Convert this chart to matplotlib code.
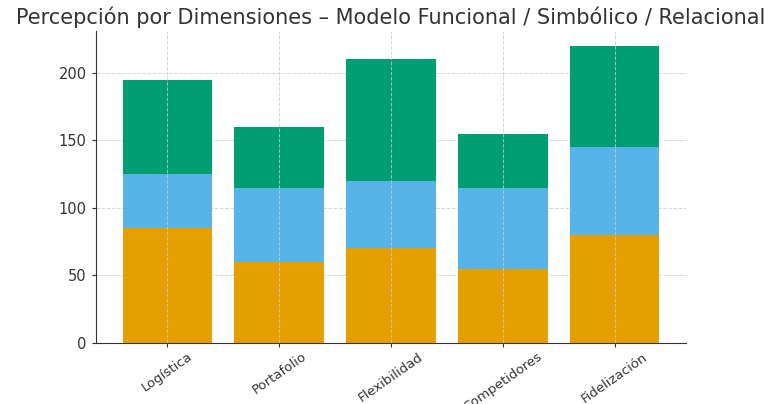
import matplotlib
matplotlib.use("Agg")
import matplotlib.pyplot as plt
import numpy as np

categories = ["Logística", "Portafolio", "Flexibilidad", "Competidores", "Fidelización"]
funcional = [85, 60, 70, 55, 80]
simbolico = [40, 55, 50, 60, 65]
relacional = [70, 45, 90, 40, 75]

colors = ["#E69F00", "#56B4E9", "#009E73"]

fig = plt.figure(figsize=(7.72, 4.04), dpi=100)
ax = fig.add_axes([0.124, 0.151, 0.765, 0.772])

x = np.arange(len(categories))
b1 = np.array(funcional)
b2 = b1 + np.array(simbolico)
ax.bar(x, funcional, width=0.8, color=colors[0], label="Funcional")
ax.bar(x, simbolico, width=0.8, bottom=b1, color=colors[1], label="Simbólico")
ax.bar(x, relacional, width=0.8, bottom=b2, color=colors[2], label="Relacional")

ax.set_ylim(0, 231)
ax.set_xticks(x)
ax.set_xticklabels(categories, rotation=35, fontsize=9.5, color="#333333")
ax.set_yticks([0, 50, 100, 150, 200])
ax.tick_params(axis="y", labelsize=10.5, labelcolor="#333333", colors="#333333", length=3)
ax.tick_params(axis="x", colors="#333333", length=3, pad=2)

ax.grid(True, linestyle="--", linewidth=0.7, color="#cccccc", alpha=0.8)
ax.set_axisbelow(True)
ax.xaxis.set_zorder(2.5)

for s in ["top", "right"]:
    ax.spines[s].set_visible(False)
for s in ["left", "bottom"]:
    ax.spines[s].set_color("#333333")

ax.set_title("Percepción por Dimensiones – Modelo Funcional / Simbólico / Relacional",
             fontsize=15, color="#333333", pad=5)

fig.savefig("out.png", dpi=100)
